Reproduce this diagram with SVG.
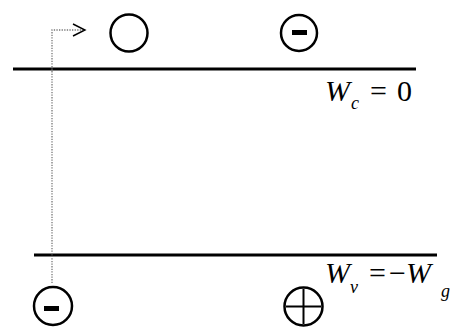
<svg xmlns="http://www.w3.org/2000/svg" width="454" height="327" viewBox="0 0 454 327">
<style>
.ln{stroke:#000;stroke-width:3;fill:none}
.c{stroke:#000;stroke-width:2.5;fill:#fff}
.dot{stroke:#777;stroke-width:1.3;stroke-dasharray:1.3,1.3;fill:none}
.t{font-family:"Liberation Serif","Times New Roman","DejaVu Serif",serif;fill:#000}
.i{font-style:italic}
</style>
<defs>
<marker id="ah" markerWidth="16" markerHeight="16" refX="13" refY="7" orient="auto" markerUnits="userSpaceOnUse">
<path d="M1,1 L13,7 L1,13" fill="none" stroke="#000" stroke-width="1.4"/>
</marker>
</defs>
<g id="bands">
<line class="ln" x1="13" y1="69" x2="416" y2="69"/>
<line class="ln" x1="34" y1="255" x2="437" y2="255"/>
</g>
<g id="connectors">
<polyline class="dot" points="52,283 52,30 85,30" marker-end="url(#ah)"/>
</g>
<g id="hole-empty"><circle class="c" cx="129" cy="33" r="18.5"/></g>
<g id="electron-top"><circle class="c" cx="299" cy="33" r="18"/><rect x="292" y="30" width="15" height="5" fill="#000"/></g>
<g id="electron-bottom"><circle class="c" cx="53" cy="306" r="19"/><rect x="44" y="306" width="15" height="5" fill="#000"/></g>
<g id="hole-bottom"><circle class="c" cx="303.5" cy="306.5" r="19"/><line x1="286" y1="306.5" x2="321" y2="306.5" stroke="#000" stroke-width="2"/><line x1="303.5" y1="289" x2="303.5" y2="324" stroke="#000" stroke-width="2"/></g>
<g id="label-wc">
<text class="t i" x="325" y="101" font-size="30">W</text>
<text class="t i" x="351" y="109" font-size="18">c</text>
<text class="t" x="370" y="101" font-size="30">=</text>
<text class="t" x="397" y="101" font-size="30">0</text>
</g>
<g id="label-wv">
<text class="t i" x="325" y="283" font-size="30">W</text>
<text class="t i" x="350" y="293" font-size="18">v</text>
<text class="t" x="369" y="283" font-size="30">=</text>
<text class="t" x="389" y="283" font-size="30">−<tspan font-style="italic">W</tspan></text>
<text class="t i" x="441" y="297" font-size="18">g</text>
</g>
</svg>
